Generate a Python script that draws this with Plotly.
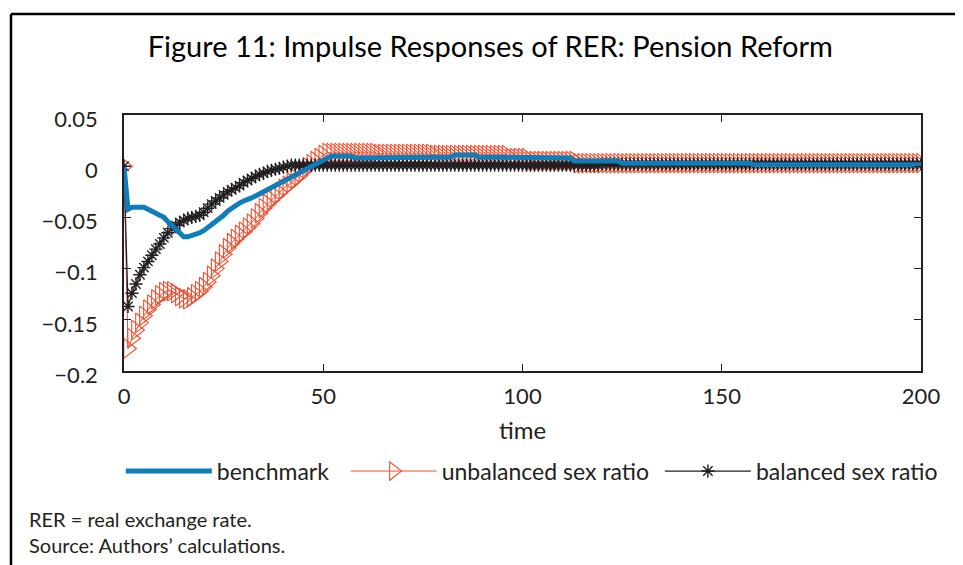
import plotly.graph_objects as go

# periods 0..200
time = list(range(201))

benchmark = [
    0.000, -0.042, -0.040, -0.040, -0.040, -0.040, -0.042, -0.044, -0.046, -0.048,
    -0.050, -0.054, -0.058, -0.062, -0.066, -0.069, -0.069, -0.068, -0.067, -0.065,
    -0.063, -0.060, -0.058, -0.055, -0.052, -0.048, -0.044, -0.041, -0.039, -0.036,
    -0.034, -0.033, -0.031, -0.029, -0.027, -0.025, -0.023, -0.021, -0.019, -0.017,
    -0.015, -0.013, -0.011, -0.009, -0.007, -0.005, -0.003, -0.001, 0.002, 0.004,
    0.006, 0.008, 0.010, 0.010, 0.010, 0.010, 0.010, 0.010, 0.008, 0.008,
    0.008, 0.008, 0.008, 0.008, 0.008, 0.008, 0.009, 0.009, 0.009, 0.009,
    0.009, 0.009, 0.009, 0.009, 0.009, 0.009, 0.009, 0.009, 0.009, 0.009,
    0.009, 0.009, 0.009, 0.011, 0.011, 0.011, 0.011, 0.011, 0.011, 0.009,
    0.009, 0.009, 0.009, 0.009, 0.009, 0.009, 0.009, 0.009, 0.009, 0.009,
    0.009, 0.009, 0.008, 0.008, 0.008, 0.008, 0.008, 0.008, 0.008, 0.008,
    0.008, 0.008, 0.008, 0.005, 0.005, 0.005, 0.005, 0.005, 0.005, 0.005,
    0.005, 0.005, 0.005, 0.005, 0.005, 0.003, 0.003, 0.003, 0.003, 0.003,
    0.003, 0.003, 0.003, 0.003, 0.003, 0.003, 0.003, 0.003, 0.003, 0.003,
    0.003, 0.003, 0.003, 0.003, 0.003, 0.003, 0.003, 0.003, 0.003, 0.003,
    0.003, 0.003, 0.003, 0.003, 0.003, 0.003, 0.003, 0.003, 0.0015, 0.0015,
    0.0015, 0.0015, 0.0015, 0.0015, 0.0015, 0.0015, 0.0015, 0.0015, 0.0015, 0.0015,
    0.0015, 0.0015, 0.0015, 0.0015, 0.0015, 0.0015, 0.0015, 0.0015, 0.0015, 0.0015,
    0.0015, 0.0015, 0.0015, 0.0015, 0.0015, 0.0015, 0.0015, 0.0015, 0.0015, 0.0015,
    0.0015, 0.0015, 0.0015, 0.0015, 0.0015, 0.0015, 0.0015, 0.0015, 0.0015, 0.0015,
    0.0015,
]

unbalanced = [
    0.000, -0.178, -0.168, -0.160, -0.153, -0.146, -0.140, -0.135, -0.130, -0.126,
    -0.123, -0.122, -0.122, -0.124, -0.127, -0.129, -0.130, -0.128, -0.125, -0.122,
    -0.118, -0.113, -0.107, -0.100, -0.093, -0.086, -0.080, -0.075, -0.071, -0.067,
    -0.064, -0.060, -0.056, -0.051, -0.046, -0.041, -0.037, -0.033, -0.029, -0.026,
    -0.022, -0.019, -0.016, -0.012, -0.009, -0.005, -0.001, 0.002, 0.005, 0.008,
    0.011, 0.013, 0.013, 0.013, 0.013, 0.013, 0.013, 0.013, 0.013, 0.013,
    0.013, 0.013, 0.013, 0.013, 0.012, 0.012, 0.012, 0.012, 0.012, 0.012,
    0.012, 0.012, 0.012, 0.012, 0.012, 0.012, 0.012, 0.012, 0.011, 0.011,
    0.011, 0.011, 0.011, 0.011, 0.011, 0.011, 0.011, 0.011, 0.011, 0.011,
    0.011, 0.011, 0.011, 0.011, 0.011, 0.011, 0.011, 0.008, 0.008, 0.008,
    0.008, 0.008, 0.005, 0.005, 0.005, 0.005, 0.005, 0.005, 0.005, 0.005,
    0.005, 0.005, 0.005, 0.005, 0.003, 0.003, 0.003, 0.003, 0.003, 0.003,
    0.003, 0.003, 0.003, 0.003, 0.003, 0.003, 0.003, 0.003, 0.003, 0.003,
    0.003, 0.003, 0.003, 0.003, 0.003, 0.003, 0.003, 0.003, 0.003, 0.003,
    0.003, 0.003, 0.003, 0.003, 0.003, 0.003, 0.003, 0.003, 0.003, 0.003,
    0.003, 0.003, 0.003, 0.003, 0.003, 0.003, 0.003, 0.003, 0.003, 0.003,
    0.003, 0.003, 0.003, 0.003, 0.003, 0.003, 0.003, 0.003, 0.003, 0.003,
    0.003, 0.003, 0.003, 0.003, 0.003, 0.003, 0.003, 0.003, 0.003, 0.003,
    0.003, 0.003, 0.003, 0.003, 0.003, 0.003, 0.003, 0.003, 0.003, 0.003,
    0.003, 0.003, 0.003, 0.003, 0.003, 0.003, 0.003, 0.003, 0.003, 0.003,
    0.003,
]

balanced = [
    0.000, -0.137, -0.124, -0.115, -0.106, -0.099, -0.093, -0.087, -0.081, -0.076,
    -0.070, -0.065, -0.061, -0.058, -0.055, -0.053, -0.051, -0.050, -0.049, -0.048,
    -0.045, -0.041, -0.037, -0.034, -0.031, -0.028, -0.025, -0.023, -0.021, -0.019,
    -0.016, -0.014, -0.012, -0.010, -0.008, -0.007, -0.005, -0.004, -0.003, -0.002,
    -0.001, 0.000, 0.001, 0.001, 0.001, 0.001, 0.001, 0.001, 0.001, 0.001,
    0.001, 0.001, 0.001, 0.001, 0.001, 0.001, 0.001, 0.001, 0.001, 0.001,
    0.001, 0.001, 0.001, 0.001, 0.001, 0.001, 0.001, 0.001, 0.001, 0.001,
    0.001, 0.001, 0.001, 0.001, 0.001, 0.001, 0.001, 0.001, 0.001, 0.001,
    0.001, 0.001, 0.001, 0.001, 0.001, 0.001, 0.001, 0.001, 0.001, 0.001,
    0.001, 0.001, 0.001, 0.001, 0.001, 0.001, 0.001, 0.001, 0.001, 0.001,
    0.001, 0.001, 0.001, 0.001, 0.001, 0.001, 0.001, 0.001, 0.001, 0.001,
    0.001, 0.001, 0.001, 0.001, 0.001, 0.001, 0.001, 0.001, 0.001, 0.001,
    0.002, 0.002, 0.002, 0.002, 0.002, 0.002, 0.002, 0.002, 0.002, 0.002,
    0.002, 0.002, 0.002, 0.002, 0.002, 0.002, 0.002, 0.002, 0.002, 0.002,
    0.002, 0.002, 0.002, 0.002, 0.002, 0.002, 0.002, 0.002, 0.002, 0.002,
    0.002, 0.002, 0.002, 0.002, 0.002, 0.002, 0.002, 0.002, 0.002, 0.002,
    0.002, 0.002, 0.002, 0.002, 0.002, 0.002, 0.002, 0.002, 0.002, 0.002,
    0.002, 0.002, 0.002, 0.002, 0.002, 0.002, 0.002, 0.002, 0.002, 0.002,
    0.002, 0.002, 0.002, 0.002, 0.002, 0.002, 0.002, 0.002, 0.002, 0.002,
    0.002, 0.002, 0.002, 0.002, 0.002, 0.002, 0.002, 0.002, 0.002, 0.002,
    0.002,
]

title = "Figure 11: Impulse Responses of RER: Pension Reform"
notes = "RER = real exchange rate.<br>Source: Authors’ calculations."

BLUE = '#0E7DB9'
ORANGE = '#EF5030'
DARK = '#231F20'
FONT = 'Lato'

fig = go.Figure()

# drawing order: orange, black, blue on top; legend order via legendrank
fig.add_trace(go.Scatter(
    x=time, y=unbalanced,
    mode='lines+markers',
    name='unbalanced sex ratio\u00a0',
    line=dict(color=ORANGE, width=1),
    marker=dict(symbol='triangle-right-open', size=17, color=ORANGE,
                line=dict(color=ORANGE, width=1.1)),
    legendrank=2
))
fig.add_trace(go.Scatter(
    x=time, y=balanced,
    mode='lines+markers',
    name='balanced sex ratio',
    line=dict(color=DARK, width=1.3),
    marker=dict(symbol='asterisk-open', size=11, color=DARK,
                line=dict(color=DARK, width=1.4)),
    legendrank=3
))
fig.add_trace(go.Scatter(
    x=time, y=benchmark,
    mode='lines',
    name='benchmark\u00a0\u00a0',
    line=dict(color=BLUE, width=5),
    legendrank=1
))

# the page body adds an 8px offset, so the figure is 955x557
fig.update_layout(
    width=955,
    height=557,
    margin=dict(l=116, r=42, t=107, b=194),
    paper_bgcolor='white',
    plot_bgcolor='white',
    font=dict(family=FONT, color=DARK, size=22),
    title=dict(text=title, x=0.505, xanchor='center', y=0.930, yanchor='middle',
               font=dict(family=FONT, size=29, color='black')),
    showlegend=True,
    legend=dict(orientation='h', x=-0.004, xanchor='left', y=-0.391, yanchor='middle',
                font=dict(size=23), itemwidth=86, traceorder='normal',
                bgcolor='rgba(0,0,0,0)'),
    xaxis=dict(
        range=[0, 200], tickvals=[0, 50, 100, 150, 200],
        ticks='inside', ticklen=7, tickcolor=DARK,
        showline=True, linecolor=DARK, linewidth=1.5, mirror='ticks',
        showgrid=False, zeroline=False,
        ticklabelstandoff=5,
        title=dict(text='time', standoff=14, font=dict(size=24))
    ),
    yaxis=dict(
        range=[-0.2, 0.05], tickvals=[-0.2, -0.15, -0.1, -0.05, 0, 0.05],
        ticktext=['−0.2', '−0.15', '−0.1', '−0.05', '0', '0.05'],
        ticks='inside', ticklen=7, tickcolor=DARK,
        showline=True, linecolor=DARK, linewidth=1.5, mirror='ticks',
        showgrid=False, zeroline=False,
        ticklabelstandoff=20, ticklabelshift=4
    ),
    shapes=[
        dict(type='line', xref='paper', yref='paper', x0=-0.1418, x1=-0.1418,
             y0=-0.80, y1=1.3945, line=dict(color='black', width=2.5)),
        dict(type='line', xref='paper', yref='paper', x0=-0.1418, x1=1.06,
             y0=1.3945, y1=1.3945, line=dict(color='black', width=2.5)),
    ],
    annotations=[
        dict(text=notes, xref='paper', yref='paper', x=-0.1217, y=-0.629,
             xanchor='left', yanchor='middle', align='left', showarrow=False,
             font=dict(size=20, color=DARK))
    ]
)

fig.write_html("out.html")
